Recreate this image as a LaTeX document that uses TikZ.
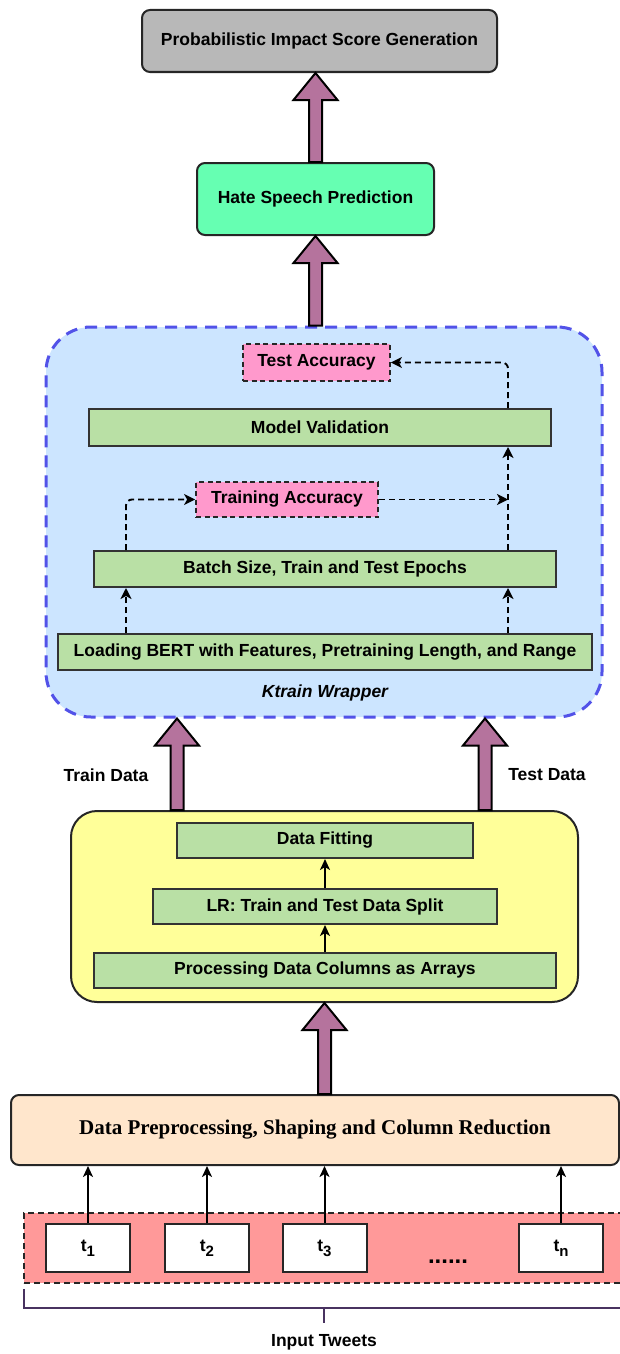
\documentclass[tikz,border=0pt]{standalone}
\usepackage{fontspec}
\setmainfont{Liberation Sans}
\newfontfamily\timesbold{Liberation Serif}
\usetikzlibrary{arrows.meta,calc}

\definecolor{scoregray}{RGB}{184,184,184}
\definecolor{hatemint}{RGB}{102,255,178}
\definecolor{wrapfill}{RGB}{204,229,255}
\definecolor{wrapblue}{RGB}{82,82,232}
\definecolor{accpink}{RGB}{255,153,204}
\definecolor{stepgreen}{RGB}{185,224,165}
\definecolor{fityellow}{RGB}{255,255,153}
\definecolor{prepeach}{RGB}{255,230,204}
\definecolor{bandred}{RGB}{255,153,153}
\definecolor{fatmauve}{RGB}{181,115,157}
\definecolor{bracketpurple}{RGB}{72,50,96}

\newcommand{\fatarrow}[2]{%
  \path[fat] let \p1=(#1), \p2=(#2) in
    (\x1-6.5pt,\y1) -- (\x1-6.5pt,\y2-27pt) -- (\x1-22pt,\y2-27pt) -- (\x1,\y2)
    -- (\x1+22pt,\y2-27pt) -- (\x1+6.5pt,\y2-27pt) -- (\x1+6.5pt,\y1) -- cycle;}
\newcommand{\tweetsub}[1]{t\raisebox{-5pt}{\fontsize{15}{15}\selectfont #1}}

\begin{document}
\begin{tikzpicture}[x=1pt,y=1pt]
\tikzstyle{every node}+=[inner sep=0pt, font=\fontsize{17.5}{21}\selectfont\bfseries]
\tikzstyle{roundbox}=[draw=black!85, line width=2pt, rounded corners=8pt]
\tikzstyle{stepbox}=[draw=black!80, fill=stepgreen, line width=2pt, minimum height=36]
\tikzstyle{accbox}=[draw=black!85, fill=accpink, line width=1.8pt, dash pattern=on 5pt off 3.5pt, minimum height=36]
\tikzstyle{tweet}=[draw=black!85, fill=white, line width=2pt, minimum width=84, minimum height=48]
\tikzstyle{dasharr}=[-{Stealth[length=11pt,width=11pt,inset=3pt]}, line width=1.9pt, dash pattern=on 6pt off 4pt]
\tikzstyle{solidarr}=[-{Stealth[length=11pt,width=10pt,inset=3pt]}, line width=2pt]
\tikzstyle{fat}=[draw=black, fill=fatmauve, line width=2pt]

\useasboundingbox (0,0) rectangle (620,-1354);

\node[roundbox, fill=scoregray, minimum width=355, minimum height=62] (score) at (319.5,-41) {Probabilistic Impact Score Generation};
\node[roundbox, fill=hatemint, minimum width=237, minimum height=72] (hate) at (315.5,-199) {Hate Speech Prediction};

\node[draw=wrapblue, fill=wrapfill, line width=3pt, dash pattern=on 12pt off 8pt, rounded corners=45pt, minimum width=556, minimum height=390] (wrap) at (324,-522) {};
\node (wraplabel) at (325,-693) {\itshape Ktrain Wrapper};
\node[accbox, minimum width=147, minimum height=37] (testacc) at (316.5,-362.5) {Test Accuracy};
\node[stepbox, minimum width=462, minimum height=37] (modval) at (320,-427.5) {Model Validation};
\node[accbox, minimum width=182, minimum height=35] (trainacc) at (287,-499.5) {Training Accuracy};
\node[stepbox, minimum width=462] (batch) at (325,-569) {Batch Size, Train and Test Epochs};
\node[stepbox, minimum width=534] (bert) at (325,-652) {Loading BERT with Features, Pretraining Length, and Range};

\coordinate (lx) at (126,0);
\coordinate (rx) at (508,0);
\draw[dasharr] (bert.north -| lx) -- (batch.south -| lx);
\draw[dasharr] (bert.north -| rx) -- (batch.south -| rx);
\draw[dasharr, rounded corners=6pt] (batch.north -| lx) |- (trainacc.west);
\draw[dasharr] (trainacc.east) -- (trainacc.east -| rx);
\draw[dasharr] (batch.north -| rx) -- (modval.south -| rx);
\draw[dasharr, rounded corners=6pt] (modval.north -| rx) |- (testacc.east);

\node[roundbox, fill=fityellow, rounded corners=26pt, minimum width=507, minimum height=191] (fit) at (324.5,-906.5) {};
\node[stepbox, minimum width=296, minimum height=35] (datafit) at (325,-840.5) {Data Fitting};
\node[stepbox, minimum width=344, minimum height=35] (split) at (325,-906.5) {LR: Train and Test Data Split};
\node[stepbox, minimum width=462, minimum height=35] (columns) at (325,-970.5) {Processing Data Columns as Arrays};
\draw[solidarr] (split.north) -- (datafit.south);
\draw[solidarr] (columns.north) -- (split.south);

\coordinate (trx) at (177,0);
\coordinate (tsx) at (485,0);
\node (trainlabel) at (106,-775) {Train Data};
\node (testlabel) at (547,-775) {Test Data};

\node[roundbox, fill=prepeach, minimum width=608, minimum height=70, font=\timesbold\bfseries\fontsize{21}{25}\selectfont] (prep) at (315,-1130) {Data Preprocessing, Shaping and Column Reduction};

\node[draw=black!85, fill=bandred, line width=2pt, dash pattern=on 6pt off 4pt, minimum width=640, minimum height=70, anchor=west] (band) at (23,-1248) {};
\node[tweet] (t1) at (88,-1248) {\tweetsub{1}};
\node[tweet] (t2) at (207,-1248) {\tweetsub{2}};
\node[tweet] (t3) at (324.5,-1248) {\tweetsub{3}};
\node[tweet] (tn) at (561,-1248) {\tweetsub{n}};
\node[font=\fontsize{24}{24}\selectfont\bfseries] (dots) at (448,-1262) {......};
\draw[solidarr] (t1.north) -- (t1.north |- prep.south);
\draw[solidarr] (t2.north) -- (t2.north |- prep.south);
\draw[solidarr] (t3.north) -- (t3.north |- prep.south);
\draw[solidarr] (tn.north) -- (tn.north |- prep.south);

\draw[bracketpurple, line width=2pt] (24,-1289) -- (24,-1308) -- (640,-1308);
\draw[bracketpurple, line width=2pt] (324,-1308) -- (324,-1323);
\node (inputlabel) at (324,-1342) {Input Tweets};

\fatarrow{hate.north}{score.south}
\fatarrow{wrap.north -| hate.south}{hate.south}
\fatarrow{fit.north -| trx}{wrap.south}
\fatarrow{fit.north -| tsx}{wrap.south}
\fatarrow{prep.north -| fit.south}{fit.south}
\end{tikzpicture}
\end{document}
